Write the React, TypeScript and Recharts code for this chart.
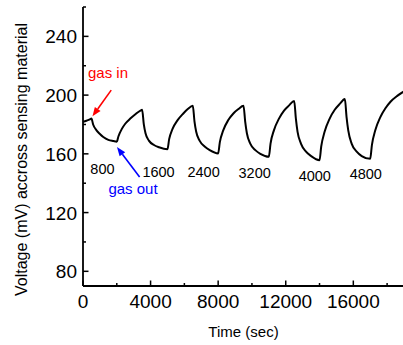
import React from "react";
import {
  LineChart,
  Line,
  XAxis,
  YAxis,
  ReferenceDot,
  ReferenceLine,
} from "recharts";

// time (sec) and voltage (mV)
const times = [
  0, 200, 400, 500, 600, 800, 1000, 1200, 1500, 1800, 2000,
  2100, 2300, 2500, 2800, 3100, 3400, 3500,
  3600, 3700, 3900, 4200, 4500, 5000,
  5100, 5300, 5600, 5900, 6200, 6500,
  6600, 6700, 6900, 7200, 7500, 8000,
  8100, 8300, 8600, 8900, 9200, 9500,
  9600, 9700, 9900, 10200, 10500, 11000,
  11100, 11300, 11600, 11900, 12200, 12500,
  12600, 12700, 12900, 13200, 13500, 14000,
  14100, 14300, 14600, 14900, 15200, 15500,
  15600, 15700, 15900, 16200, 16500, 17000,
  17100, 17300, 17600, 17900, 18200, 18600, 19000,
];
const voltage = [
  181.8, 182.5, 183.5, 184, 180, 176, 173.5, 171.5, 169.5, 168.7, 168.3,
  172, 177, 180.5, 184, 187, 189.5, 190,
  180, 174, 169, 166, 164.5, 163.2,
  170, 177, 183, 187, 190.5, 192.7,
  182, 175, 169, 165, 162.5, 160.3,
  168, 176, 183, 187.5, 190.5, 192.7,
  182, 174, 167, 162.5, 160, 158,
  167, 176, 184, 189.5, 193, 196,
  184, 175, 167, 161.5, 158.5, 155.7,
  165, 175, 184, 190, 194, 197.3,
  185, 176, 167, 161.5, 158.5, 156.6,
  166, 176, 185, 191, 195.5, 199.5, 202.5,
];

const xTicks = [0, 2000, 4000, 6000, 8000, 10000, 12000, 14000, 16000, 18000];
const yTicks = [80, 100, 120, 140, 160, 180, 200, 220, 240, 260];

// gas concentration labels placed under each cycle
const concLabels = ["800", "1600", "2400", "3200", "4000", "4800"];
const concX = [1150, 4470, 7140, 10160, 13720, 16740];
const concY = [149.6, 147.5, 147.5, 146.9, 144.8, 146.2];

const data = times.map((t, i) => ({ t, v: voltage[i] }));

const FONT = "Arial, 'Liberation Sans', Helvetica, sans-serif";

const makeTick =
  (side: "bottom" | "top" | "left" | "right", major: number, showLabel: boolean) =>
  (props: any) => {
    const { x, y, payload } = props;
    const val = payload.value;
    const isMajor = val % major === 0;
    const len = isMajor ? 5.5 : 3;
    let line = null;
    let label = null;
    if (side === "bottom") {
      line = <line x1={x} y1={y} x2={x} y2={y - len} stroke="#000" strokeWidth={1.5} />;
      if (showLabel && isMajor)
        label = (
          <text x={x} y={y + 22} textAnchor="middle" fontSize={19} fontFamily={FONT} fill="#000">
            {val}
          </text>
        );
    } else if (side === "top") {
      line = <line x1={x} y1={y} x2={x} y2={y + len} stroke="#000" strokeWidth={1.5} />;
    } else if (side === "left") {
      line = <line x1={x} y1={y} x2={x + len} y2={y} stroke="#000" strokeWidth={1.5} />;
      if (showLabel && isMajor && val <= 240)
        label = (
          <text x={x - 6} y={y + 7} textAnchor="end" fontSize={19} fontFamily={FONT} fill="#000">
            {val}
          </text>
        );
    } else {
      line = <line x1={x} y1={y} x2={x - len} y2={y} stroke="#000" strokeWidth={1.5} />;
    }
    return (
      <g>
        {line}
        {label}
      </g>
    );
  };

const Arrow = (color: string) => (p: any) => {
  const { x1, y1, x2, y2 } = p;
  const ang = Math.atan2(y2 - y1, x2 - x1);
  const hl = 9;
  const hw = 3.5;
  const bx = x2 - hl * Math.cos(ang);
  const by = y2 - hl * Math.sin(ang);
  const px = -Math.sin(ang) * hw;
  const py = Math.cos(ang) * hw;
  return (
    <g>
      <line x1={x1} y1={y1} x2={bx} y2={by} stroke={color} strokeWidth={1.6} />
      <polygon
        points={`${x2},${y2} ${bx + px},${by + py} ${bx - px},${by - py}`}
        fill={color}
      />
    </g>
  );
};

const textShape = (value: string, color: string, size: number) => (p: any) =>
  (
    <text
      x={p.cx}
      y={p.cy + size * 0.36}
      textAnchor="middle"
      fontSize={size}
      fontFamily={FONT}
      fill={color}
    >
      {value}
    </text>
  );

const YTitle = (props: any) => {
  const { viewBox } = props;
  const cx = 21;
  const cy = viewBox.y + viewBox.height / 2 + 13;
  return (
    <text
      x={cx}
      y={cy}
      transform={`rotate(-90 ${cx} ${cy})`}
      textAnchor="middle"
      dominantBaseline="central"
      fontSize={16}
      fontFamily={FONT}
      fill="#000"
    >
      Voltage (mV) accross sensing material
    </text>
  );
};

export default function App() {
  return (
    <div style={{ position: "absolute", left: 0, top: 0, width: 403, height: 345, overflow: "hidden", background: "#fff" }}>
      <LineChart
        width={410}
        height={345}
        data={data}
        margin={{ top: 7, right: 6, left: 0, bottom: 0 }}
      >
        <XAxis
          xAxisId="b"
          dataKey="t"
          type="number"
          domain={[0, 19000]}
          ticks={xTicks}
          orientation="bottom"
          height={59}
          tickSize={0}
          tickMargin={0}
          axisLine={{ stroke: "#000", strokeWidth: 1.8 }}
          tickLine={false}
          tick={makeTick("bottom", 4000, true)}
          interval={0}
          label={{
            value: "Time (sec)",
            position: "insideBottom",
            offset: 8,
            fontSize: 15,
            fontFamily: FONT,
            fill: "#000",
          }}
        />
        <XAxis
          xAxisId="t"
          dataKey="t"
          type="number"
          domain={[0, 19000]}
          ticks={xTicks}
          orientation="top"
          height={0}
          tickSize={0}
          tickMargin={0}
          axisLine={{ stroke: "#000", strokeWidth: 1.8 }}
          tickLine={false}
          tick={makeTick("top", 4000, false)}
          interval={0}
        />
        <YAxis
          yAxisId="l"
          type="number"
          domain={[70, 260]}
          ticks={yTicks}
          orientation="left"
          width={83}
          tickSize={0}
          tickMargin={0}
          axisLine={{ stroke: "#000", strokeWidth: 1.8 }}
          tickLine={false}
          tick={makeTick("left", 40, true)}
          interval={0}
          label={<YTitle />}
        />
        <YAxis
          yAxisId="r"
          type="number"
          domain={[70, 260]}
          ticks={yTicks}
          orientation="right"
          width={0}
          tickSize={0}
          tickMargin={0}
          axisLine={{ stroke: "#000", strokeWidth: 1.8 }}
          tickLine={false}
          tick={makeTick("right", 40, false)}
          interval={0}
        />
        <Line
          xAxisId="b"
          yAxisId="l"
          type="monotone"
          dataKey="v"
          stroke="#000"
          strokeWidth={2}
          dot={false}
          isAnimationActive={false}
        />
        <ReferenceLine
          xAxisId="b"
          yAxisId="l"
          segment={[
            { x: 1670, y: 203.4 },
            { x: 560, y: 185.6 },
          ]}
          shape={Arrow("#ff0000")}
        />
        <ReferenceLine
          xAxisId="b"
          yAxisId="l"
          segment={[
            { x: 3350, y: 144.3 },
            { x: 2010, y: 164.6 },
          ]}
          shape={Arrow("#0000ff")}
        />
        <ReferenceDot
          xAxisId="b"
          yAxisId="l"
          x={1480}
          y={215}
          r={0}
          shape={textShape("gas in", "#ff0000", 15)}
        />
        <ReferenceDot
          xAxisId="b"
          yAxisId="l"
          x={2960}
          y={136.6}
          r={0}
          shape={textShape("gas out", "#0000ff", 15)}
        />
        {concLabels.map((lab, i) => (
          <ReferenceDot
            key={lab}
            xAxisId="b"
            yAxisId="l"
            x={concX[i]}
            y={concY[i]}
            r={0}
            shape={textShape(lab, "#000", 14.5)}
          />
        ))}
      </LineChart>
    </div>
  );
}
